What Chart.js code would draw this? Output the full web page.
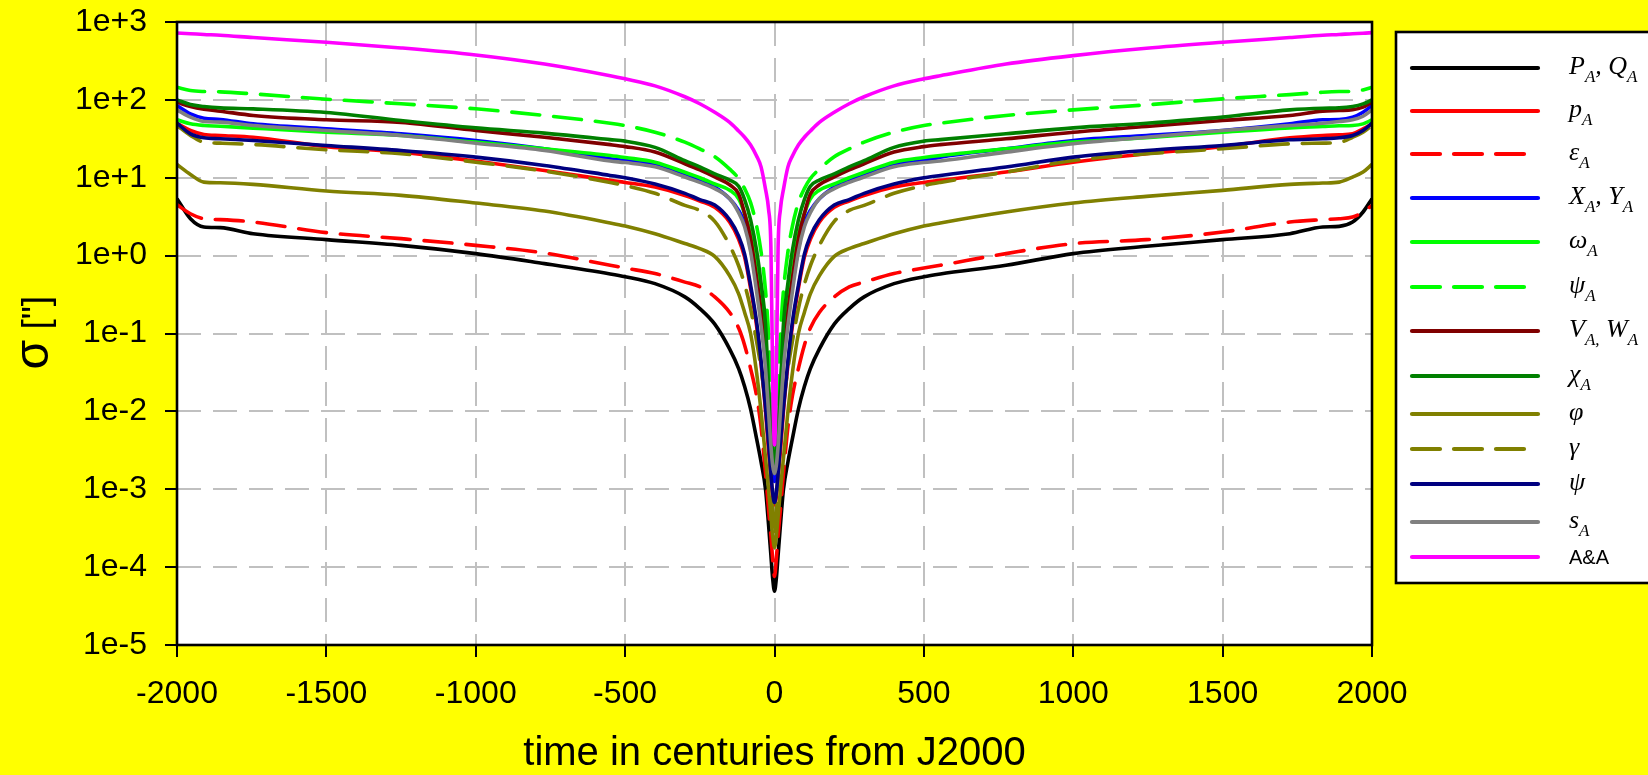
<!DOCTYPE html>
<html>
<head>
<meta charset="utf-8">
<title>Precession angle uncertainties</title>
<script src="https://cdn.jsdelivr.net/npm/chart.js@4.4.1/dist/chart.umd.min.js"></script>
<style>
  html, body { margin: 0; padding: 0; background: #ffff00; overflow: hidden; }
  #wrap { width: 1648px; height: 775px; position: relative; }
  canvas { display: block; }
</style>
</head>
<body>
<div id="wrap"><canvas id="chart" width="1648" height="775"></canvas></div>
<script>
// Sample epochs, in centuries from J2000
const timeCenturies = [
  -2000, -1955, -1910, -1855, -1745, -1500, -1250, -1000, -770, -550,
  -500, -400, -300, -250, -200, -150, -120, -100, -80, -60, -45, -30, -20, -12, -6, 0,
  6, 12, 20, 30, 45, 60, 80, 100, 120, 150, 200, 250, 300, 400, 500,
  555, 775, 1000, 1245, 1500, 1725, 1835, 1890, 1935, 1970, 2000
];

// Uncertainties, given as log10(sigma / arcsec), one value per epoch
const logSigmaPQ = [
  0.731, 0.474, 0.368, 0.359, 0.282, 0.205, 0.132, 0.026, -0.103, -0.235,
  -0.27, -0.36, -0.53, -0.68, -0.88, -1.2, -1.45, -1.68, -1.97, -2.35, -2.65, -3.0, -3.45, -3.85, -4.15, -4.31,
  -4.15, -3.85, -3.45, -3.0, -2.65, -2.35, -1.97, -1.68, -1.45, -1.2, -0.88, -0.68, -0.53, -0.36, -0.27,
  -0.235, -0.124, 0.026, 0.12, 0.205, 0.282, 0.368, 0.376, 0.432, 0.56, 0.731
];
const logSigmaPA = [
  1.70, 1.607, 1.556, 1.543, 1.52, 1.40, 1.329, 1.214, 1.094, 0.966,
  0.94, 0.88, 0.77, 0.70, 0.62, 0.43, 0.21, -0.02, -0.42, -0.9, -1.4, -2.0, -2.5, -2.85, -3.1, -3.2,
  -3.1, -2.85, -2.5, -2.0, -1.4, -0.9, -0.42, -0.02, 0.21, 0.43, 0.62, 0.70, 0.77, 0.88, 0.94,
  0.966, 1.073, 1.20, 1.308, 1.40, 1.513, 1.543, 1.551, 1.564, 1.628, 1.692
];
const logSigmaEpsA = [
  0.654, 0.538, 0.474, 0.462, 0.432, 0.295, 0.218, 0.132, 0.034, -0.124,
  -0.16, -0.23, -0.34, -0.40, -0.53, -0.73, -0.93, -1.15, -1.45, -1.8, -2.2, -2.8, -3.25, -3.6, -3.9, -4.12,
  -3.9, -3.6, -3.25, -2.8, -2.2, -1.8, -1.45, -1.15, -0.93, -0.73, -0.53, -0.40, -0.34, -0.23, -0.16,
  -0.124, 0.026, 0.154, 0.205, 0.303, 0.432, 0.462, 0.474, 0.496, 0.56, 0.645
];
const logSigmaXY = [
  1.927, 1.82, 1.765, 1.748, 1.692, 1.628, 1.564, 1.479, 1.372, 1.244,
  1.22, 1.17, 1.05, 0.97, 0.88, 0.73, 0.58, 0.42, 0.09, -0.38, -0.77, -1.35, -1.9, -2.4, -2.75, -2.9,
  -2.75, -2.4, -1.9, -1.35, -0.77, -0.38, 0.09, 0.42, 0.58, 0.73, 0.88, 0.97, 1.05, 1.17, 1.22,
  1.265, 1.372, 1.479, 1.543, 1.607, 1.692, 1.744, 1.748, 1.778, 1.842, 1.927
];
const logSigmaOmegaA = [
  1.744, 1.692, 1.671, 1.662, 1.637, 1.585, 1.543, 1.457, 1.372, 1.286,
  1.26, 1.20, 1.07, 1.0, 0.92, 0.84, 0.73, 0.54, 0.27, -0.2, -0.6, -1.1, -1.68, -2.2, -2.55, -2.75,
  -2.55, -2.2, -1.68, -1.1, -0.6, -0.2, 0.27, 0.54, 0.73, 0.84, 0.92, 1.0, 1.07, 1.20, 1.26,
  1.286, 1.372, 1.457, 1.513, 1.585, 1.641, 1.658, 1.667, 1.671, 1.692, 1.744
];
const logSigmaPsiA = [
  2.162, 2.12, 2.107, 2.103, 2.077, 2.009, 1.95, 1.885, 1.80, 1.70,
  1.67, 1.585, 1.457, 1.37, 1.27, 1.11, 0.99, 0.86, 0.68, 0.38, 0.05, -0.45, -1.0, -1.6, -2.2, -2.65,
  -2.2, -1.6, -1.0, -0.45, 0.05, 0.38, 0.68, 0.86, 0.99, 1.11, 1.27, 1.37, 1.457, 1.585, 1.67,
  1.70, 1.80, 1.872, 1.936, 2.013, 2.068, 2.098, 2.107, 2.11, 2.128, 2.162
];
const logSigmaVW = [
  1.97, 1.915, 1.88, 1.855, 1.80, 1.744, 1.71, 1.607, 1.52, 1.425,
  1.40, 1.33, 1.18, 1.10, 1.01, 0.91, 0.79, 0.54, 0.22, -0.29, -0.72, -1.35, -1.9, -2.3, -2.6, -2.75,
  -2.6, -2.3, -1.9, -1.35, -0.72, -0.29, 0.22, 0.54, 0.79, 0.91, 1.01, 1.10, 1.18, 1.33, 1.40,
  1.425, 1.50, 1.585, 1.658, 1.735, 1.80, 1.855, 1.863, 1.872, 1.906, 1.97
];
const logSigmaChiA = [
  2.0, 1.94, 1.915, 1.897, 1.885, 1.838, 1.735, 1.641, 1.573, 1.49,
  1.47, 1.39, 1.22, 1.14, 1.05, 0.97, 0.89, 0.72, 0.46, 0.07, -0.35, -0.88, -1.68, -2.2, -2.5, -2.7,
  -2.5, -2.2, -1.68, -0.88, -0.35, 0.07, 0.46, 0.72, 0.89, 0.97, 1.05, 1.14, 1.22, 1.39, 1.47,
  1.49, 1.564, 1.641, 1.70, 1.778, 1.872, 1.893, 1.897, 1.915, 1.949, 2.0
];
const logSigmaPhi = [
  1.171, 1.043, 0.944, 0.936, 0.915, 0.829, 0.774, 0.675, 0.573, 0.42,
  0.38, 0.28, 0.155, 0.09, -0.01, -0.26, -0.49, -0.73, -1.0, -1.5, -2.0, -2.6, -3.0, -3.35, -3.6, -3.75,
  -3.6, -3.35, -3.0, -2.6, -2.0, -1.5, -1.0, -0.73, -0.49, -0.26, -0.01, 0.09, 0.155, 0.28, 0.38,
  0.42, 0.56, 0.675, 0.761, 0.838, 0.915, 0.932, 0.944, 1.009, 1.073, 1.171
];
const logSigmaGamma = [
  1.671, 1.543, 1.457, 1.444, 1.427, 1.359, 1.308, 1.20, 1.085, 0.94,
  0.90, 0.80, 0.645, 0.58, 0.44, 0.13, -0.13, -0.37, -0.68, -1.1, -1.45, -1.9, -2.35, -2.8, -3.3, -3.6,
  -3.3, -2.8, -2.35, -1.9, -1.45, -1.1, -0.68, -0.37, -0.13, 0.13, 0.44, 0.58, 0.645, 0.80, 0.90,
  0.94, 1.073, 1.222, 1.308, 1.372, 1.436, 1.444, 1.453, 1.52, 1.585, 1.671
];
const logSigmaPsi = [
  1.70, 1.564, 1.513, 1.50, 1.479, 1.415, 1.35, 1.265, 1.158, 1.03,
  1.0, 0.92, 0.80, 0.72, 0.65, 0.46, 0.25, 0.02, -0.38, -0.85, -1.35, -1.95, -2.4, -2.8, -3.05, -3.17,
  -3.05, -2.8, -2.4, -1.95, -1.35, -0.85, -0.38, 0.02, 0.25, 0.46, 0.65, 0.72, 0.80, 0.92, 1.0,
  1.03, 1.137, 1.265, 1.35, 1.415, 1.487, 1.50, 1.513, 1.543, 1.607, 1.70
];
const logSigmaSA = [
  1.872, 1.778, 1.722, 1.714, 1.671, 1.607, 1.543, 1.444, 1.35, 1.215,
  1.195, 1.14, 1.01, 0.94, 0.86, 0.73, 0.55, 0.37, 0.05, -0.46, -0.9, -1.45, -2.0, -2.45, -2.7, -2.8,
  -2.7, -2.45, -2.0, -1.45, -0.9, -0.46, 0.05, 0.37, 0.55, 0.73, 0.86, 0.94, 1.01, 1.14, 1.195,
  1.215, 1.329, 1.436, 1.52, 1.607, 1.671, 1.70, 1.722, 1.744, 1.79, 1.872
];
const logSigmaAA = [
  2.859, 2.85, 2.84, 2.83, 2.80, 2.739, 2.667, 2.577, 2.46, 2.31,
  2.27, 2.18, 2.04, 1.95, 1.84, 1.71, 1.60, 1.52, 1.42, 1.28, 1.14, 0.85, 0.6, 0.1, -1.6, -2.43,
  -1.6, 0.1, 0.6, 0.85, 1.14, 1.28, 1.42, 1.52, 1.60, 1.71, 1.84, 1.95, 2.04, 2.18, 2.27,
  2.31, 2.46, 2.568, 2.662, 2.739, 2.80, 2.83, 2.84, 2.85, 2.855, 2.863
];

// Series names; "_X" or "_{..}" marks a subscript
const seriesLabels = [
  'P_A, Q_A', 'p_A', 'ε_A', 'X_A, Y_A', 'ω_A', 'ψ_A', 'V_{A,} W_A',
  'χ_A', 'φ', 'γ', 'ψ', 's_A', 'A&A'
];
const seriesValues = [
  logSigmaPQ, logSigmaPA, logSigmaEpsA, logSigmaXY, logSigmaOmegaA, logSigmaPsiA, logSigmaVW,
  logSigmaChiA, logSigmaPhi, logSigmaGamma, logSigmaPsi, logSigmaSA, logSigmaAA
];

// Axis ticks and titles
const xTickValues = [-2000, -1500, -1000, -500, 0, 500, 1000, 1500, 2000];
const xTickLabels = ['-2000', '-1500', '-1000', '-500', '0', '500', '1000', '1500', '2000'];
const yTickValues = [1e-5, 1e-4, 1e-3, 1e-2, 1e-1, 1e0, 1e1, 1e2, 1e3];
const yTickLabels = ['1e-5', '1e-4', '1e-3', '1e-2', '1e-1', '1e+0', '1e+1', '1e+2', '1e+3'];
const xTitle = 'time in centuries from J2000';
const yTitleSymbol = 'σ';
const yTitleUnit = ' ["]';

// Line styles, in series order
const DASH = [28, 14];
const seriesStyles = [
  { color: '#000000', dash: [] },
  { color: '#ff0000', dash: [] },
  { color: '#ff0000', dash: DASH },
  { color: '#0000ff', dash: [] },
  { color: '#00ff00', dash: [] },
  { color: '#00ff00', dash: DASH },
  { color: '#800000', dash: [] },
  { color: '#008000', dash: [] },
  { color: '#808000', dash: [] },
  { color: '#808000', dash: DASH },
  { color: '#000080', dash: [] },
  { color: '#808080', dash: [] },
  { color: '#ff00ff', dash: [] }
];

const datasets = seriesValues.map((vals, i) => ({
  label: seriesLabels[i],
  data: timeCenturies.map((t, k) => ({ x: t, y: Math.pow(10, vals[k]) })),
  borderColor: seriesStyles[i].color,
  borderDash: seriesStyles[i].dash,
  borderCapStyle: seriesStyles[i].dash.length ? 'round' : 'butt',
  borderJoinStyle: 'round',
  borderWidth: 3.6,
  pointRadius: 0,
  fill: false,
  cubicInterpolationMode: 'monotone',
  order: seriesValues.length - i
}));

// Split a label such as "V_{A,} W_A" into normal and subscript runs
function parseLabel(str) {
  const parts = [];
  let buf = '';
  for (let i = 0; i < str.length; i++) {
    const ch = str[i];
    if (ch === '_') {
      if (buf) { parts.push({ text: buf, sub: false }); buf = ''; }
      if (str[i + 1] === '{') {
        const end = str.indexOf('}', i + 2);
        parts.push({ text: str.slice(i + 2, end), sub: true });
        i = end;
      } else {
        parts.push({ text: str[i + 1], sub: true });
        i += 1;
      }
    } else {
      buf += ch;
    }
  }
  if (buf) parts.push({ text: buf, sub: false });
  return parts;
}

const framePlugin = {
  id: 'frameAndKey',
  beforeDraw(chart) {
    const { ctx, chartArea: a } = chart;
    ctx.save();
    ctx.fillStyle = '#ffffff';
    ctx.fillRect(a.left, a.top, a.right - a.left, a.bottom - a.top);
    ctx.restore();
  },
  afterDatasetsDraw(chart) {
    const { ctx, chartArea: a } = chart;
    ctx.save();
    ctx.strokeStyle = '#000000';
    ctx.lineWidth = 2.6;
    ctx.setLineDash([]);
    ctx.strokeRect(a.left, a.top, a.right - a.left, a.bottom - a.top);
    ctx.restore();
  },
  afterDraw(chart) {
    const ctx = chart.ctx;
    const a = chart.chartArea;

    // vertical axis title: large sigma followed by the unit
    ctx.save();
    ctx.translate(48, (a.top + a.bottom) / 2 + 36);
    ctx.rotate(-Math.PI / 2);
    ctx.fillStyle = '#000000';
    ctx.textBaseline = 'alphabetic';
    ctx.textAlign = 'left';
    ctx.font = '48px "Liberation Sans", Arial, sans-serif';
    ctx.fillText(yTitleSymbol, 0, 0);
    const w = ctx.measureText(yTitleSymbol).width;
    ctx.font = '37px "Liberation Sans", Arial, sans-serif';
    ctx.fillText(yTitleUnit, w, 0);
    ctx.restore();

    // key box
    const box = { x: 1396, y: 32, w: 300, h: 551 };
    const rowY = [68, 111, 154, 198, 242, 287, 331, 376, 414, 449, 484, 522, 557];
    ctx.save();
    ctx.fillStyle = '#ffffff';
    ctx.fillRect(box.x, box.y, box.w, box.h);
    ctx.strokeStyle = '#000000';
    ctx.lineWidth = 2.6;
    ctx.strokeRect(box.x, box.y, box.w, box.h);

    chart.data.datasets.forEach((ds, i) => {
      const y = rowY[i];
      ctx.beginPath();
      ctx.setLineDash(ds.borderDash || []);
      ctx.lineCap = 'round';
      ctx.lineWidth = 4.2;
      ctx.strokeStyle = ds.borderColor;
      ctx.moveTo(1412, y);
      ctx.lineTo(1538, y);
      ctx.stroke();
      ctx.setLineDash([]);

      ctx.fillStyle = '#000000';
      ctx.textBaseline = 'alphabetic';
      ctx.textAlign = 'left';
      const text = seriesLabels[i];
      if (text === 'A&A') {
        ctx.font = '20px "Liberation Sans", Arial, sans-serif';
        ctx.fillText(text, 1569, y + 6.5);
        return;
      }
      let x = 1569;
      parseLabel(text).forEach(part => {
        if (part.sub) {
          ctx.font = 'italic 17px "Liberation Serif", "Times New Roman", serif';
          ctx.fillText(part.text, x, y + 14);
        } else {
          ctx.font = 'italic 26px "Liberation Serif", "Times New Roman", serif';
          ctx.fillText(part.text, x, y + 5.5);
        }
        x += ctx.measureText(part.text).width;
      });
    });
    ctx.restore();
  }
};

Chart.defaults.font.family = '"Liberation Sans", Arial, sans-serif';
Chart.defaults.color = '#000000';

new Chart(document.getElementById('chart').getContext('2d'), {
  type: 'line',
  data: { datasets },
  options: {
    responsive: false,
    animation: false,
    devicePixelRatio: 1,
    layout: { padding: { left: 0, top: 22, right: 276, bottom: 0 } },
    plugins: { legend: { display: false }, tooltip: { enabled: false } },
    scales: {
      x: {
        type: 'linear',
        min: -2000,
        max: 2000,
        afterBuildTicks: s => { s.ticks = xTickValues.map(v => ({ value: v })); },
        afterFit: s => { s.height = 130; s.paddingLeft = 0; s.paddingRight = 0; },
        ticks: {
          callback: (v, i) => xTickLabels[i],
          font: { size: 32 },
          color: '#000000',
          padding: 18,
          maxRotation: 0,
          autoSkip: false
        },
        grid: {
          color: '#c0c0c0',
          lineWidth: 2,
          tickColor: '#000000',
          tickWidth: 2,
          tickLength: 12,
          tickBorderDash: []
        },
        border: { display: false, dash: [24, 12] },
        title: {
          display: true,
          text: xTitle,
          font: { size: 40, lineHeight: 1.05 },
          color: '#000000',
          padding: { top: 0, bottom: 0 }
        }
      },
      y: {
        type: 'logarithmic',
        min: 1e-5,
        max: 1e3,
        afterBuildTicks: s => { s.ticks = yTickValues.map(v => ({ value: v })); },
        afterFit: s => { s.width = 177; s.paddingTop = 0; s.paddingBottom = 0; },
        ticks: {
          callback: (v, i) => yTickLabels[i],
          font: { size: 32 },
          color: '#000000',
          padding: 18,
          autoSkip: false
        },
        grid: {
          color: '#c0c0c0',
          lineWidth: 2,
          tickColor: '#000000',
          tickWidth: 2,
          tickLength: 12,
          tickBorderDash: []
        },
        border: { display: false, dash: [24, 12] },
        title: { display: false }
      }
    }
  },
  plugins: [framePlugin]
});
</script>
</body>
</html>
